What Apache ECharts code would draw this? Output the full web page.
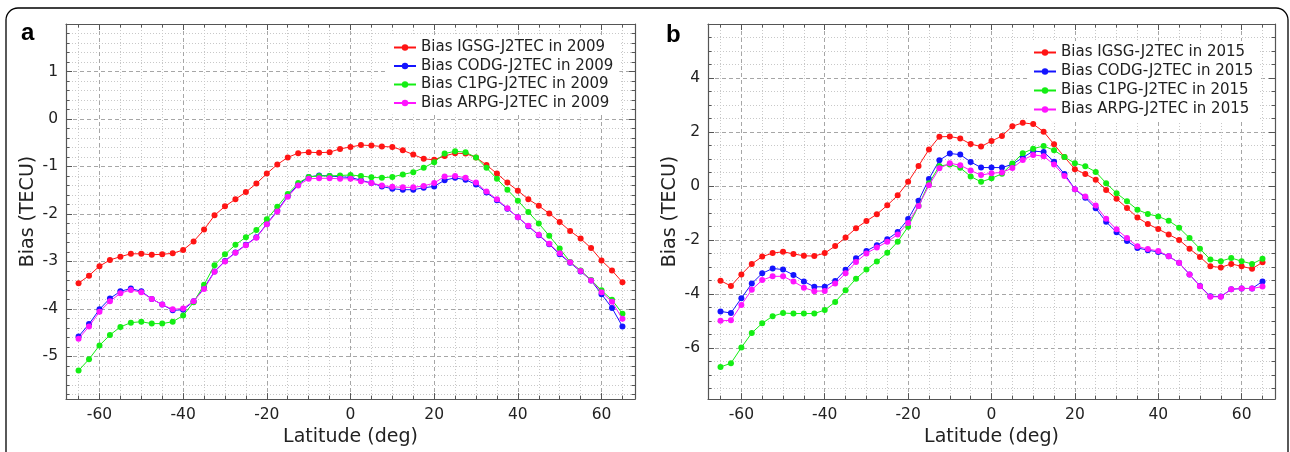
<!DOCTYPE html>
<html>
<head>
<meta charset="utf-8">
<script src="https://cdn.jsdelivr.net/npm/echarts@6/dist/echarts.min.js"></script>
<style>
html,body{margin:0;padding:0;background:#fff;}
#chart{width:1290px;height:452px;}
</style>
</head>
<body>
<div id="chart"></div>
<script>
// ---------- data ----------
const lat = [-65,-62.5,-60,-57.5,-55,-52.5,-50,-47.5,-45,-42.5,-40,-37.5,-35,-32.5,-30,-27.5,-25,-22.5,-20,-17.5,-15,-12.5,-10,-7.5,-5,-2.5,0,2.5,5,7.5,10,12.5,15,17.5,20,22.5,25,27.5,30,32.5,35,37.5,40,42.5,45,47.5,50,52.5,55,57.5,60,62.5,65];

const igsg2009 = [-3.46,-3.30,-3.10,-2.97,-2.90,-2.84,-2.84,-2.86,-2.85,-2.83,-2.76,-2.58,-2.33,-2.03,-1.84,-1.69,-1.54,-1.36,-1.15,-0.96,-0.81,-0.72,-0.70,-0.71,-0.70,-0.63,-0.59,-0.55,-0.56,-0.58,-0.59,-0.66,-0.75,-0.84,-0.86,-0.78,-0.72,-0.73,-0.81,-0.97,-1.15,-1.34,-1.51,-1.69,-1.83,-1.99,-2.17,-2.36,-2.52,-2.72,-2.98,-3.19,-3.44];
const codg2009 = [-4.58,-4.32,-4.01,-3.78,-3.63,-3.57,-3.63,-3.79,-3.91,-4.03,-4.02,-3.84,-3.56,-3.21,-2.99,-2.81,-2.65,-2.49,-2.21,-1.93,-1.62,-1.38,-1.22,-1.19,-1.20,-1.22,-1.23,-1.29,-1.35,-1.42,-1.47,-1.49,-1.49,-1.45,-1.42,-1.29,-1.24,-1.28,-1.38,-1.55,-1.71,-1.89,-2.07,-2.26,-2.45,-2.64,-2.85,-3.03,-3.21,-3.40,-3.69,-3.98,-4.37];
const c1pg2009 = [-5.30,-5.06,-4.77,-4.55,-4.38,-4.29,-4.27,-4.31,-4.31,-4.27,-4.14,-3.86,-3.49,-3.08,-2.85,-2.65,-2.49,-2.34,-2.11,-1.85,-1.58,-1.35,-1.22,-1.20,-1.20,-1.19,-1.18,-1.20,-1.23,-1.24,-1.22,-1.17,-1.12,-1.03,-0.91,-0.73,-0.68,-0.70,-0.81,-1.03,-1.26,-1.49,-1.72,-1.96,-2.20,-2.46,-2.73,-3.01,-3.19,-3.39,-3.61,-3.81,-4.10];
const arpg2009 = [-4.63,-4.37,-4.06,-3.84,-3.67,-3.60,-3.65,-3.79,-3.91,-4.01,-3.99,-3.84,-3.58,-3.22,-3.00,-2.82,-2.66,-2.50,-2.22,-1.95,-1.64,-1.40,-1.26,-1.25,-1.25,-1.26,-1.26,-1.31,-1.35,-1.40,-1.43,-1.44,-1.44,-1.41,-1.35,-1.21,-1.20,-1.24,-1.34,-1.53,-1.69,-1.88,-2.07,-2.25,-2.44,-2.63,-2.83,-3.02,-3.20,-3.40,-3.65,-3.85,-4.21];

const igsg2015 = [-3.51,-3.71,-3.28,-2.89,-2.62,-2.49,-2.44,-2.52,-2.59,-2.60,-2.49,-2.23,-1.91,-1.57,-1.30,-1.05,-0.72,-0.35,0.15,0.74,1.35,1.82,1.83,1.76,1.55,1.46,1.66,1.85,2.21,2.34,2.29,2.01,1.54,1.07,0.62,0.44,0.23,-0.15,-0.48,-0.82,-1.17,-1.41,-1.60,-1.80,-2.00,-2.33,-2.63,-2.98,-3.02,-2.89,-2.98,-3.07,-2.83];
const codg2015 = [-4.65,-4.71,-4.16,-3.62,-3.24,-3.06,-3.10,-3.30,-3.54,-3.74,-3.74,-3.52,-3.11,-2.68,-2.41,-2.20,-1.98,-1.71,-1.23,-0.55,0.26,0.95,1.20,1.16,0.89,0.68,0.68,0.68,0.80,1.05,1.29,1.26,0.90,0.44,-0.12,-0.44,-0.83,-1.33,-1.72,-2.04,-2.30,-2.38,-2.45,-2.61,-2.85,-3.28,-3.71,-4.09,-4.10,-3.83,-3.80,-3.80,-3.54];
const c1pg2015 = [-6.71,-6.57,-5.99,-5.45,-5.09,-4.83,-4.71,-4.73,-4.73,-4.73,-4.60,-4.30,-3.87,-3.44,-3.10,-2.80,-2.48,-2.07,-1.51,-0.74,0.10,0.74,0.79,0.67,0.35,0.15,0.28,0.45,0.83,1.21,1.38,1.48,1.32,1.07,0.84,0.73,0.52,0.10,-0.27,-0.57,-0.88,-1.04,-1.13,-1.29,-1.55,-1.93,-2.33,-2.73,-2.79,-2.67,-2.79,-2.89,-2.70];
const arpg2015 = [-5.00,-4.98,-4.41,-3.85,-3.49,-3.35,-3.35,-3.54,-3.77,-3.90,-3.89,-3.62,-3.24,-2.82,-2.50,-2.28,-2.07,-1.80,-1.37,-0.74,0.02,0.65,0.84,0.77,0.57,0.40,0.47,0.50,0.66,0.96,1.15,1.10,0.79,0.37,-0.12,-0.39,-0.73,-1.22,-1.61,-1.93,-2.24,-2.34,-2.41,-2.61,-2.85,-3.28,-3.72,-4.11,-4.11,-3.83,-3.80,-3.80,-3.73];

const namesA = ['Bias IGSG-J2TEC in 2009','Bias CODG-J2TEC in 2009','Bias C1PG-J2TEC in 2009','Bias ARPG-J2TEC in 2009'];
const namesB = ['Bias IGSG-J2TEC in 2015','Bias CODG-J2TEC in 2015','Bias C1PG-J2TEC in 2015','Bias ARPG-J2TEC in 2015'];

// ticks
const xMajor = [-60,-40,-20,0,20,40,60];
const xMinor = [-65,-55,-50,-45,-35,-30,-25,-15,-10,-5,5,10,15,25,30,35,45,50,55,65];
const yMajorA = [-5,-4,-3,-2,-1,0,1];
const yMinorA = [-5.8,-5.6,-5.4,-5.2,-4.8,-4.6,-4.4,-4.2,-3.8,-3.6,-3.4,-3.2,-2.8,-2.6,-2.4,-2.2,-1.8,-1.6,-1.4,-1.2,-0.8,-0.6,-0.4,-0.2,0.2,0.4,0.6,0.8,1.2,1.4,1.6,1.8];
const yMajorB = [-6,-4,-2,0,2,4];
const yMinorB = [-7.5,-7,-6.5,-5.5,-5,-4.5,-3.5,-3,-2.5,-1.5,-1,-0.5,0.5,1,1.5,2.5,3,3.5,4.5,5,5.5];

// ---------- styling ----------
const colors = ['#ff1414','#1414ff','#14ee14','#ff14ff'];
const FONT = 'DejaVu Sans';
const axisCol = '#555';
const majorGrid = {show:true, lineStyle:{color:'#a6a6a6', width:1, type:[4,3]}};
const minorGrid = {show:true, lineStyle:{color:'#c8c8c8', width:1, type:[1,2]}};

function xAxes(gi, min, max, major, minor) {
  const base = {gridIndex:gi, type:'value', min:min, max:max};
  return [
    Object.assign({}, base, {position:'bottom',
      name:'Latitude (deg)', nameLocation:'middle', nameGap:28,
      nameTextStyle:{fontFamily:FONT, fontSize:19, color:'#222'},
      axisLine:{show:true, onZero:false, lineStyle:{color:axisCol, width:1.2}},
      axisTick:{show:true, inside:true, length:6, customValues:major, lineStyle:{color:axisCol}},
      axisLabel:{show:true, customValues:major, margin:8, fontFamily:FONT, fontSize:15.5, color:'#222'},
      splitLine:majorGrid}),
    Object.assign({}, base, {position:'bottom',
      axisLine:{show:false, onZero:false},
      axisTick:{show:true, inside:true, length:3.5, customValues:minor, lineStyle:{color:axisCol}},
      axisLabel:{show:false}, splitLine:minorGrid}),
    Object.assign({}, base, {position:'top',
      axisLine:{show:true, onZero:false, lineStyle:{color:axisCol, width:1.2}},
      axisTick:{show:true, inside:true, length:6, customValues:major, lineStyle:{color:axisCol}},
      axisLabel:{show:false}, splitLine:{show:false}}),
    Object.assign({}, base, {position:'top',
      axisLine:{show:false, onZero:false},
      axisTick:{show:true, inside:true, length:3.5, customValues:minor, lineStyle:{color:axisCol}},
      axisLabel:{show:false}, splitLine:{show:false}})
  ];
}
function yAxes(gi, min, max, major, minor) {
  const base = {gridIndex:gi, type:'value', min:min, max:max};
  return [
    Object.assign({}, base, {position:'left',
      name:'Bias (TECU)', nameLocation:'middle', nameGap:28,
      nameTextStyle:{fontFamily:FONT, fontSize:19, color:'#222'},
      axisLine:{show:true, onZero:false, lineStyle:{color:axisCol, width:1.2}},
      axisTick:{show:true, inside:true, length:6, customValues:major, lineStyle:{color:axisCol}},
      axisLabel:{show:true, customValues:major, margin:8, fontFamily:FONT, fontSize:15.5, color:'#222'},
      splitLine:majorGrid}),
    Object.assign({}, base, {position:'left',
      axisLine:{show:false, onZero:false},
      axisTick:{show:true, inside:true, length:3.5, customValues:minor, lineStyle:{color:axisCol}},
      axisLabel:{show:false}, splitLine:minorGrid}),
    Object.assign({}, base, {position:'right',
      axisLine:{show:true, onZero:false, lineStyle:{color:axisCol, width:1.2}},
      axisTick:{show:true, inside:true, length:6, customValues:major, lineStyle:{color:axisCol}},
      axisLabel:{show:false}, splitLine:{show:false}}),
    Object.assign({}, base, {position:'right',
      axisLine:{show:false, onZero:false},
      axisTick:{show:true, inside:true, length:3.5, customValues:minor, lineStyle:{color:axisCol}},
      axisLabel:{show:false}, splitLine:{show:false}})
  ];
}

function mkSeries(gi, names, arrays) {
  return arrays.map((arr, k) => ({
    type:'line', name:names[k], xAxisIndex:gi*4, yAxisIndex:gi*4,
    data: lat.map((x, i) => [x, arr[i]]),
    symbol:'circle', symbolSize:6, showSymbol:true,
    lineStyle:{color:colors[k], width:1},
    itemStyle:{color:colors[k]},
    emphasis:{disabled:true}, animation:false, z:2+k
  }));
}

function mkLegend(names, left, top, gap) {
  return {
    data:names, orient:'vertical', left:left, top:top,
    backgroundColor:'#fff', padding:[4,6,4,5],
    itemWidth:22, itemHeight:8, itemGap:gap,
    textStyle:{fontFamily:FONT, fontSize:15, lineHeight:14, color:'#222'},
    selectedMode:false
  };
}

const chart = echarts.init(document.getElementById('chart'), null, {renderer:'canvas'});
chart.setOption({
  animation:false,
  backgroundColor:'#fff',
  color:colors,
  grid:[
    {left:66, top:24, width:569, height:379},
    {left:708, top:24, width:567, height:380}
  ],
  xAxis:[].concat(xAxes(0,-68,68,xMajor,xMinor), xAxes(1,-68,68,xMajor,xMinor)),
  yAxis:[].concat(yAxes(0,-5.9,2,yMajorA,yMinorA), yAxes(1,-7.9,6,yMajorB,yMinorB)),
  legend:[
    mkLegend(namesA, 388, 36, 3.5),
    mkLegend(namesB, 1028, 41, 4)
  ],
  series:[].concat(
    mkSeries(0, namesA, [igsg2009, codg2009, c1pg2009, arpg2009]),
    mkSeries(1, namesB, [igsg2015, codg2015, c1pg2015, arpg2015])
  ),
  graphic:[
    {type:'rect', silent:true, shape:{x:6, y:8, width:1282, height:480, r:12},
     style:{fill:null, stroke:'#000', lineWidth:1.3}, z:100},
    {type:'text', left:21, top:21, silent:true,
     style:{text:'a', fontFamily:'Liberation Sans', fontWeight:'bold', fontSize:24, fill:'#000'}},
    {type:'text', left:666, top:23, silent:true,
     style:{text:'b', fontFamily:'Liberation Sans', fontWeight:'bold', fontSize:24, fill:'#000'}}
  ]
});
</script>
</body>
</html>
